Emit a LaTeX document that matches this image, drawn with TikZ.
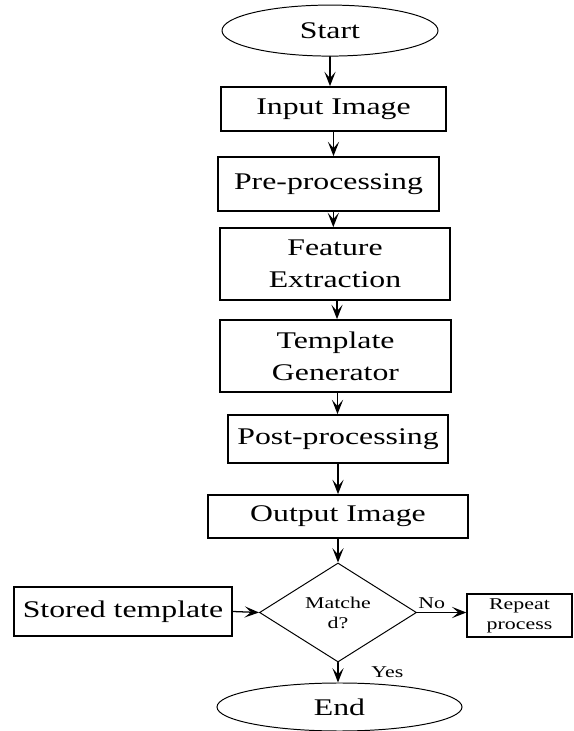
\documentclass[tikz,border=0pt]{standalone}
\usepackage{fontspec}
\setmainfont{Liberation Serif}[FakeStretch=1.33]
\usetikzlibrary{shapes.geometric,arrows.meta}

\begin{document}
\begin{tikzpicture}[line cap=round, line join=miter,
    proc/.style={draw, line width=1.2pt, inner sep=0pt, align=center,
      font=\fontsize{17}{22.8}\selectfont},
    term/.style={draw, ellipse, line width=0.7pt, inner sep=0pt,
      font=\fontsize{17}{22.8}\selectfont},
    dec/.style={draw, diamond, line width=0.7pt, inner sep=0pt, align=center,
      minimum width=3.925cm, minimum height=2.475cm,
      font=\fontsize{11.7}{14.2}\selectfont},
    lbl/.style={inner sep=2pt, font=\fontsize{11.7}{14.2}\selectfont},
    arr/.style={line width=0.9pt, -{Stealth[length=3.6mm, width=2.8mm, inset=1.6mm]}}]
  \useasboundingbox (0,0) rectangle (14.35,18.275);
  % main column
  \node[term, minimum width=5.4cm, minimum height=1.275cm] (start) at (8.25,17.51) {Start};
  \node[proc, minimum width=5.625cm, minimum height=1.1cm] (inp) at (8.3375,15.55) {Input Image};
  \node[proc, minimum width=5.525cm, minimum height=1.35cm] (pre) at (8.2125,13.675) {Pre-processing};
  \node[proc, minimum width=5.75cm, minimum height=1.8cm] (feat) at (8.375,11.675) {Feature\\Extraction};
  \node[proc, minimum width=5.775cm, minimum height=1.8cm] (tmpl) at (8.3875,9.375) {Template\\Generator};
  \node[proc, minimum width=5.5cm, minimum height=1.2cm] (post) at (8.45,7.3) {Post-processing};
  \node[proc, minimum width=6.5cm, minimum height=1.075cm] (outp) at (8.45,5.3625) {Output Image};
  % decision row
  \node[dec] (match) at (8.45,2.9625) {Matche\\d?};
  \node[proc, minimum width=5.45cm, minimum height=1.225cm] (stored) at (3.075,2.9875) {Stored template};
  \node[proc, line width=0.9pt, minimum width=2.625cm, minimum height=1.075cm,
    font=\fontsize{11.7}{14.2}\selectfont] (rep) at (12.9875,2.8875) {Repeat\\process};
  \node[term, minimum width=6.125cm, minimum height=1.2cm] (fin) at (8.4875,0.6) {End};
  % arrows
  \draw[arr] (start.south) -- (start.south |- inp.north);
  \draw[arr] (inp.south) -- (inp.south |- pre.north);
  \draw[arr] ([xshift=0.12cm]pre.south) -- ([xshift=0.12cm]pre.south |- feat.north);
  \draw[arr] ([xshift=0.05cm]feat.south) -- ([xshift=0.05cm]feat.south |- tmpl.north);
  \draw[arr] ([xshift=0.05cm]tmpl.south) -- ([xshift=0.05cm]tmpl.south |- post.north);
  \draw[arr] (post.south) -- (post.south |- outp.north);
  \draw[arr] (outp.south) -- (match.north);
  \draw[arr] (stored.east) -- (match.west);
  \draw[arr] (match.east) -- node[lbl, above, pos=0.3] (no) {No} (match.east -| rep.west);
  \draw[arr] (match.south) -- node[lbl, right=0.75cm] (yes) {Yes} (match.south |- fin.north);
\end{tikzpicture}
\end{document}
